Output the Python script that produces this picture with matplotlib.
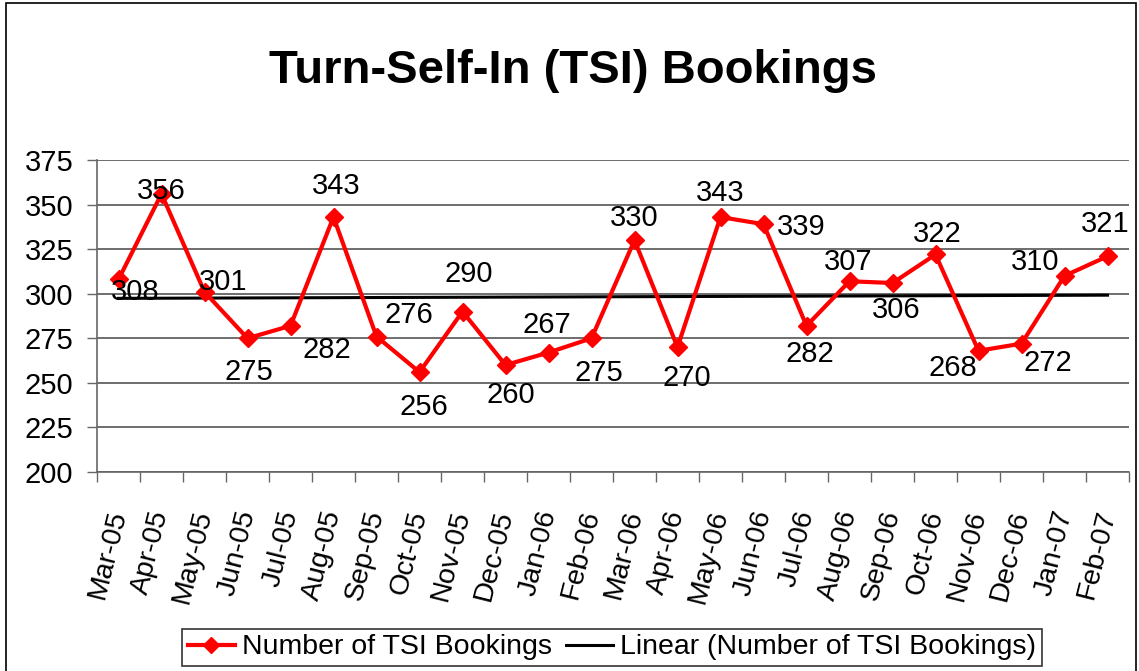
import numpy as np
import matplotlib
matplotlib.use("Agg")
import matplotlib.pyplot as plt
from matplotlib.patches import Rectangle
from matplotlib.lines import Line2D

plt.rcParams['font.family'] = ['Liberation Sans', 'DejaVu Sans']

months = ["Mar-05", "Apr-05", "May-05", "Jun-05", "Jul-05", "Aug-05", "Sep-05", "Oct-05",
          "Nov-05", "Dec-05", "Jan-06", "Feb-06", "Mar-06", "Apr-06", "May-06", "Jun-06",
          "Jul-06", "Aug-06", "Sep-06", "Oct-06", "Nov-06", "Dec-06", "Jan-07", "Feb-07"]
bookings = [308, 356, 301, 275, 282, 343, 276, 256, 290, 260, 267, 275,
            330, 270, 343, 339, 282, 307, 306, 322, 268, 272, 310, 321]
yticks = [200, 225, 250, 275, 300, 325, 350, 375]

# label offsets in pixels (dx right, dy down) relative to point
label_offsets = [(17, 13), (0, -3), (19, -10), (1, 34), (36, 24), (3, -31), (32, -22), (4, 35),
                 (6, -38), (5, 30), (-2, -28), (7, 35), (0, -22), (9, 31), (0, -24), (38, 3),
                 (3, 28), (-1, -19), (4, 27), (2, -20), (-26, 17), (26, 19), (-29, -14), (-2, -32)]

W, H = 1139, 671
fig = plt.figure(figsize=(W / 100, H / 100), dpi=100)
ax = fig.add_axes([97 / W, 1 - 472 / H, (1129 - 97) / W, (472 - 160) / H])

x = np.arange(len(bookings))
ax.set_xlim(-0.5, len(bookings) - 0.5)
ax.set_ylim(200, 375)

ax.set_yticks(yticks)
ax.yaxis.grid(True, color='#555555', linewidth=1.2)
ax.set_axisbelow(True)

# trend line
coef = np.polyfit(x, bookings, 1)
ax.plot(x, np.polyval(coef, x), color='black', linewidth=2.2, zorder=2)

ax.plot(x, bookings, color='#ff0000', linewidth=3, marker='D', markersize=9.5,
        markerfacecolor='#ff0000', markeredgecolor='#ff0000', zorder=3)

px = 72 / 100
for xi, v, (dx, dy) in zip(x, bookings, label_offsets):
    ax.annotate(str(v), (xi, v), xytext=(dx * px, -dy * px), textcoords='offset points',
                ha='center', va='center', fontsize=21, color='black', zorder=4)

# ticks
ax.set_xticks(x)
ax.set_xticklabels(months, rotation=76, ha='right', va='center', rotation_mode='anchor',
                   fontsize=20.5)
ax.tick_params(axis='x', which='major', length=0, pad=28)
ax.set_xticks(np.arange(-0.5, len(bookings), 1), minor=True)
ax.tick_params(axis='x', which='minor', length=7, width=1, color='#666666', direction='out')
ax.tick_params(axis='y', length=7, width=1, color='#666666', labelsize=21, pad=10)

for s in ['top', 'right']:
    ax.spines[s].set_visible(False)
for s in ['left', 'bottom']:
    ax.spines[s].set_color('#666666')
    ax.spines[s].set_linewidth(1.2)

fig.text(573 / W, 1 - 83 / H, "Turn-Self-In (TSI) Bookings", ha='center', va='baseline',
         fontsize=34, fontweight='bold')

handles = [Line2D([0], [0], color='#ff0000', linewidth=3, marker='D', markersize=8),
           Line2D([0], [0], color='black', linewidth=2.2)]
leg = fig.legend(handles, ["Number of TSI Bookings", "Linear (Number of TSI Bookings)"],
                 loc='center', bbox_to_anchor=(612 / W, 1 - 647.5 / H), ncol=2, fontsize=20.5,
                 frameon=True, fancybox=False, edgecolor='black', handlelength=1.65,
                 handletextpad=0.25, columnspacing=0.5, borderpad=0.2, borderaxespad=0)
leg.get_frame().set_linewidth(1.2)

fig.patches.append(Rectangle((6 / W, -0.01), (1136 - 6) / W, 1 - 3 / H + 0.01,
                             transform=fig.transFigure, fill=False, edgecolor='black',
                             linewidth=1.2))

fig.savefig("out.png", dpi=100)
